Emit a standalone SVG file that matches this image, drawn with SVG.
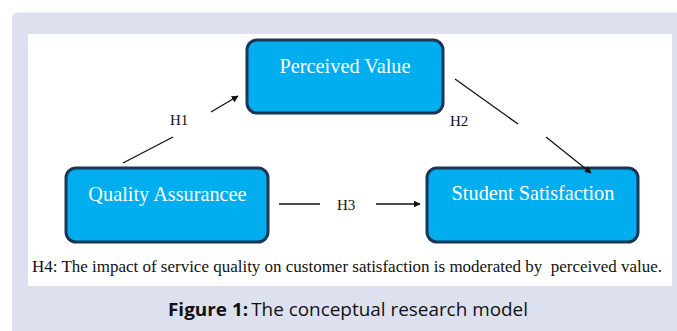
<svg xmlns="http://www.w3.org/2000/svg" width="677" height="331" viewBox="0 0 677 331">
  <style>
    .box { fill: #00aeef; stroke: #1b3556; stroke-width: 3; }
    .label { font-family: "Liberation Serif", "Times New Roman", serif; fill: #ffffff; font-size: 20.3px; text-anchor: middle; }
    .hyp { font-family: "Liberation Serif", "Times New Roman", serif; fill: #111111; font-size: 15px; }
    .note { font-family: "Liberation Serif", "Times New Roman", serif; fill: #111111; font-size: 16.5px; white-space: pre; }
    .edge { stroke: #111111; stroke-width: 1.3; fill: none; }
    .caption { font-family: "Open Sans", "Noto Sans", sans-serif; font-size: 18.5px; fill: #111111; }
  </style>
  <defs>
    <marker id="arrow" viewBox="0 0 10 10" refX="9" refY="5" markerWidth="7" markerHeight="7" markerUnits="userSpaceOnUse" orient="auto">
      <path d="M0,0 L10,5 L0,10 z" fill="#111111"/>
    </marker>
  </defs>

  <!-- figure panel -->
  <rect x="12" y="12.5" width="680" height="330" rx="6" fill="#dde1ef"/>
  <rect x="28" y="34" width="644" height="252" fill="#ffffff"/>

  <g id="perceived-value">
    <rect class="box" x="247" y="40" width="196" height="73" rx="10"/>
    <text class="label" x="345" y="73">Perceived Value</text>
  </g>

  <g id="quality-assurance">
    <rect class="box" x="66" y="168" width="202" height="74" rx="10"/>
    <text class="label" x="167.5" y="201">Quality Assurancee</text>
  </g>

  <g id="student-satisfaction">
    <rect class="box" x="427" y="168" width="211" height="74" rx="10"/>
    <text class="label" x="533" y="200">Student Satisfaction</text>
  </g>

  <!-- connectors, drawn above the boxes so the H2 arrowhead overlaps the border -->
  <g id="connectors">
    <line class="edge" x1="123" y1="163" x2="173" y2="137"/>
    <line class="edge" x1="211" y1="112" x2="238" y2="96" marker-end="url(#arrow)"/>
    <line class="edge" x1="455" y1="79" x2="518" y2="124"/>
    <line class="edge" x1="546" y1="137" x2="591" y2="173" marker-end="url(#arrow)"/>
    <line class="edge" x1="279" y1="204" x2="320" y2="204"/>
    <line class="edge" x1="376" y1="204" x2="420" y2="204" marker-end="url(#arrow)"/>
    <text class="hyp" x="170" y="125">H1</text>
    <text class="hyp" x="450" y="126">H2</text>
    <text class="hyp" x="337" y="210">H3</text>
  </g>

  <text class="note" x="32" y="272" textLength="630" lengthAdjust="spacingAndGlyphs">H4: The impact of service quality on customer satisfaction is moderated by  perceived value.</text>

  <text class="caption" x="168" y="316" textLength="360" lengthAdjust="spacingAndGlyphs"><tspan font-weight="bold">Figure 1:</tspan><tspan dx="3">The conceptual research model</tspan></text>
</svg>
